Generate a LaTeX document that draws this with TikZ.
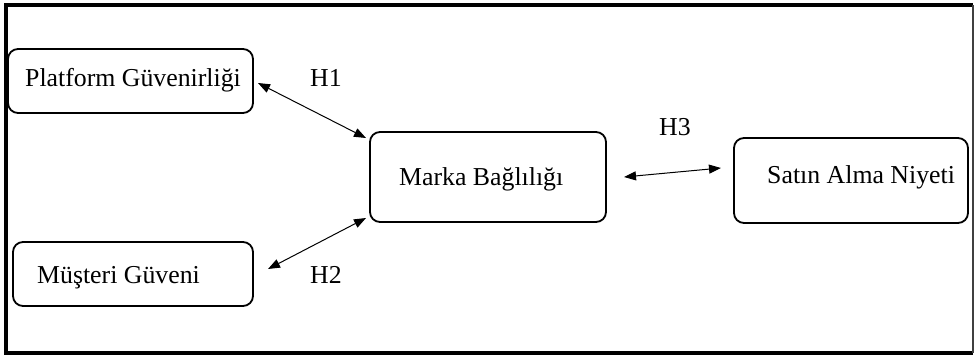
\documentclass[tikz,border=0pt]{standalone}
\usepackage{fontspec}
\setmainfont{Liberation Serif}
\usetikzlibrary{arrows.meta}
\begin{document}
\begin{tikzpicture}[x=1pt,y=-1pt,
  box/.style={draw, line width=1.8pt, rounded corners=10pt, inner sep=0pt},
  txt/.style={anchor=base west, inner sep=0pt, font=\fontsize{25.8}{30}\selectfont},
  conn/.style={line width=1pt, {Triangle[length=12pt,width=9pt]}-{Triangle[length=12pt,width=9pt]}}]
\useasboundingbox (0,0) rectangle (974,357);
\fill[white] (0,0) rectangle (974,357);
% frame
\draw[line width=3.6pt] (973,5) -- (6,5) -- (6,353) -- (973,353);
\draw[line width=1.3pt, black!75] (973,5) -- (973,353);
% boxes
\node[box, minimum width=245pt, minimum height=64pt] (pg) at (130.5,81) {};
\node[box, minimum width=240pt, minimum height=64pt] (mg) at (133,274) {};
\node[box, minimum width=236pt, minimum height=90pt] (mb) at (488,177) {};
\node[box, minimum width=234pt, minimum height=85pt] (sa) at (851,180.5) {};
% texts
\node[txt] (pgt) at (25,86) {Platform Güvenirliği};
\node[txt] (mgt) at (37,283) {Müşteri Güveni};
\node[txt] (mbt) at (399,185) {Marka Bağlılığı};
\node[txt] (sat) at (767,183) {Satın Alma Niyeti};
% labels
\node[txt] (h1) at (310,86) {H1};
\node[txt] (h2) at (310,283) {H2};
\node[txt] (h3) at (659,135) {H3};
% connector ends
\coordinate (a1) at (258,83);
\coordinate (b1) at (366,138);
\coordinate (a2) at (268,269);
\coordinate (b2) at (366,218);
\coordinate (a3) at (624,177);
\coordinate (b3) at (721,168);
\draw[conn] (a1) -- (b1);
\draw[conn] (a2) -- (b2);
\draw[conn] (a3) -- (b3);
\end{tikzpicture}
\end{document}
